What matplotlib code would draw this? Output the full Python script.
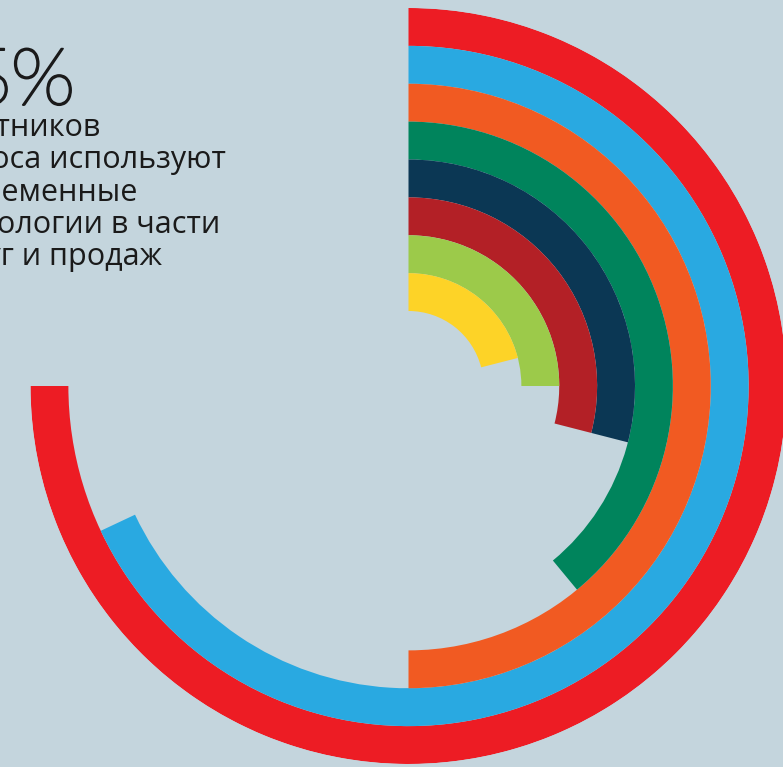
import numpy as np
import matplotlib.pyplot as plt
import matplotlib.patheffects as pe

# кольца снаружи внутрь, значения в процентах от полного круга
ring_values = [75, 68, 50, 39, 29, 29, 25, 21]
ring_colors = ["#ED1C24", "#29A9E1", "#F15A22", "#00845C",
               "#0B3754", "#B32026", "#9CCA4A", "#FDD327"]

headline = "75%"
caption_lines = ["участников", "опроса используют", "современные",
                 "технологии в части", "услуг и продаж"]

bg = "#C4D5DD"
W, H = 783, 767
cx, cy = 408.5, 386          # центр диаграммы, px от левого верхнего угла
r_outer = 378
hole = 75
ring_w = (r_outer - hole) / len(ring_values)

fig = plt.figure(figsize=(W / 100, H / 100), dpi=100, facecolor=bg)

# полярные оси: ноль сверху, по часовой стрелке
ax = fig.add_axes([(cx - r_outer) / W, (H - cy - r_outer) / H,
                   2 * r_outer / W, 2 * r_outer / H], projection="polar")
ax.set_theta_zero_location("N")
ax.set_theta_direction(-1)
ax.set_ylim(0, r_outer)
ax.axis("off")

n = len(ring_values)
for i, (v, c) in enumerate(zip(ring_values, ring_colors)):
    r0 = hole + (n - 1 - i) * ring_w
    theta = v / 100 * 2 * np.pi
    ax.bar(0, ring_w, width=theta, bottom=r0, align="edge",
           color=c, linewidth=0)

# тонкий шрифт чуть утолщаем обводкой того же цвета
fig.text(75 / W, 1 - 105 / H, headline, ha="right", va="baseline",
         fontsize=58, color="#1A1A1A",
         family=["Montserrat", "DejaVu Sans"],
         path_effects=[pe.withStroke(linewidth=1.2, foreground="#1A1A1A")])

# подпись: каждая строка выровнена по правому краю
right_edges = [100, 226, 138, 220, 162]
for k, (line, xr) in enumerate(zip(caption_lines, right_edges)):
    yb = 136 + k * 32.3
    fig.text(xr / W, 1 - yb / H, line, ha="right", va="baseline",
             fontsize=22, color="#1A1A1A",
             family=["Open Sans", "DejaVu Sans"])

fig.savefig("out.png", dpi=100, facecolor=bg)
